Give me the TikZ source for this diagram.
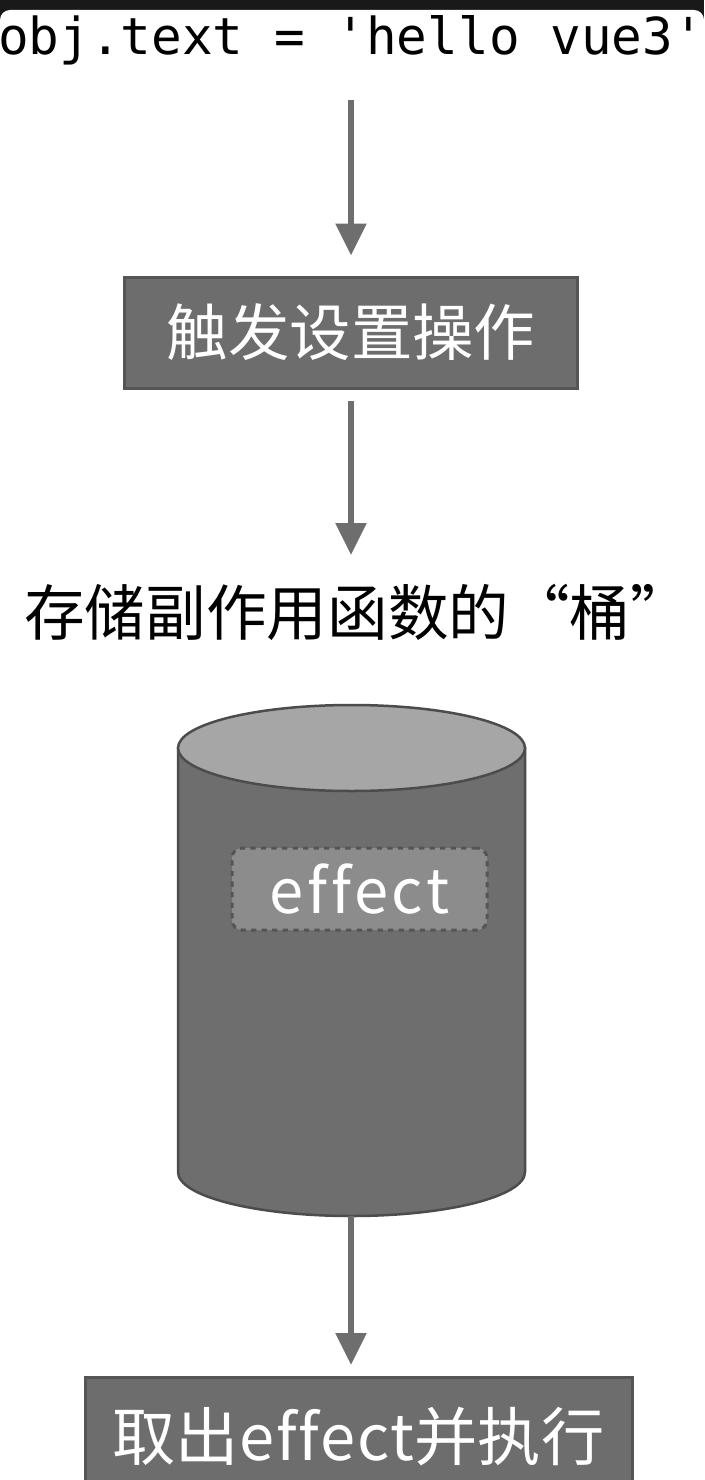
\documentclass[tikz,border=0pt]{standalone}
\usepackage{fontspec}
\setmonofont{DejaVu Sans Mono}
\newfontfamily\cjk[Ligatures = NoCommon]{Noto Sans CJK SC}
\newfontfamily\cjkwide[Ligatures = NoCommon, LetterSpace = 6]{Noto Sans CJK SC}
\newfontfamily\cjkapart[Ligatures = NoCommon, LetterSpace = 3]{Noto Sans CJK SC}
\usetikzlibrary{arrows.meta}
\definecolor{arrowgray}{HTML}{6E6E6E}
\definecolor{boxgray}{HTML}{6D6D6D}
\definecolor{edgegray}{HTML}{555555}
\definecolor{lidgray}{HTML}{A6A6A6}
\definecolor{slotgray}{HTML}{8C8C8C}
\tikzset{
    stepbox/.style = {draw = edgegray, line width = 0.06cm, fill = boxgray, text = white,
        font = \cjk\fontsize{35}{40}\selectfont, inner sep = 0pt},
    flow/.style = {draw = arrowgray, line width = 0.11cm,
        -{Triangle[width = 0.6cm, length = 0.64cm]}},
}
\begin{document}
\begin{tikzpicture}[x = 0.02cm, y = 0.02cm]
    \useasboundingbox (0, 0) rectangle (704, -1480);
    % screen frame
    \fill [black!90] (0, 0) rectangle (704, -20);
    \fill [white, rounded corners = 0.2cm] (0, -10) rectangle (704, -1500);

    \node [font = \ttfamily\fontsize{29}{32}\selectfont, inner sep = 0pt] (code) at (351, -40) {obj.text = 'hello vue3'};
    \node [stepbox, minimum width = 453 * 0.02cm, minimum height = 111 * 0.02cm] (trigger) at (351, -332.5) {触发设置操作};
    \node [font = \cjk\fontsize{34.5}{40}\selectfont, inner sep = 0pt, anchor = west] (bucketlabel) at (24, -612) {存储副作用函数的“桶”};

    % the bucket
    \filldraw [fill = arrowgray, draw = black!70, line width = 0.05cm]
        (178, -748) -- (178, -1172) arc (180:360:173.5 and 44) -- (525, -748) -- cycle;
    \filldraw [fill = lidgray, draw = black!70, line width = 0.05cm]
        (351.5, -748) ellipse (173.5 and 43);
    \coordinate (bucketbase) at (351, -1216);
    \node [draw = edgegray, dashed, line width = 0.06cm, fill = slotgray, rounded corners = 0.2cm,
        text = white, font = \cjkwide\fontsize{35}{40}\selectfont,
        minimum width = 255 * 0.02cm, minimum height = 82 * 0.02cm] (effect) at (359.5, -889) {effect};

    \node [stepbox, minimum width = 547 * 0.02cm, minimum height = 130 * 0.02cm,
        text depth = 0pt, anchor = north] (result) at (358.5, -1376) {};
    \node [text = white, font = \cjk\fontsize{36}{40}\selectfont, inner sep = 0pt] (resultlabel) at (358.5, -1437) {取出{\cjkapart effect}并执行};

    \draw [flow, shorten < = 0.7cm, shorten > = 0.4cm] (code) -- (trigger);
    \draw [flow, shorten < = 0.24cm] (trigger.south) -- (trigger.south |- 0, -555);
    \draw [flow, shorten > = 0.22cm] (bucketbase) -- (bucketbase |- result.north);
\end{tikzpicture}
\end{document}
